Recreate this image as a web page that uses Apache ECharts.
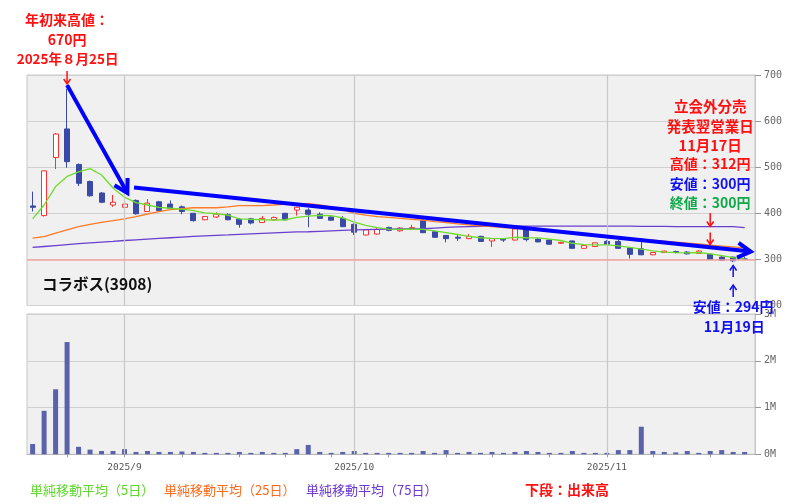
<!DOCTYPE html>
<html><head><meta charset="utf-8">
<script src="https://cdn.jsdelivr.net/npm/echarts@6/dist/echarts.min.js"></script>
<style>html,body{margin:0;padding:0;background:#fff;}#c{width:799px;height:504px;}</style>
</head><body><div id="c"></div>
<script>
// ---- data ----
const dates = ['2025-08-20','2025-08-21','2025-08-22','2025-08-25','2025-08-26','2025-08-27','2025-08-28','2025-08-29',
'2025-09-01','2025-09-02','2025-09-03','2025-09-04','2025-09-05','2025-09-08','2025-09-09','2025-09-10','2025-09-11','2025-09-12',
'2025-09-16','2025-09-17','2025-09-18','2025-09-19','2025-09-22','2025-09-24','2025-09-25','2025-09-26','2025-09-29','2025-09-30',
'2025-10-01','2025-10-02','2025-10-03','2025-10-06','2025-10-07','2025-10-08','2025-10-09','2025-10-10','2025-10-14','2025-10-15',
'2025-10-16','2025-10-17','2025-10-20','2025-10-21','2025-10-22','2025-10-23','2025-10-24','2025-10-27','2025-10-28','2025-10-29',
'2025-10-30','2025-10-31','2025-11-04','2025-11-05','2025-11-06','2025-11-07','2025-11-10','2025-11-11','2025-11-12','2025-11-13',
'2025-11-14','2025-11-17','2025-11-18','2025-11-19','2025-11-20'];
const opens  = [416,395,521,583,506,469,444,418,413,428,404,425,420,414,400,386,392,397,387,388,380,386,400,407,407,398,392,389,
376,353,355,369,362,367,384,360,352,348,345,350,340,343,342,366,344,342,335,340,324,328,339,339,325,323,310,315,317,316,313,311,305,305,301];
const closes = [413,492,572,512,465,438,424,424,420,399,422,406,411,404,384,393,398,386,376,379,389,391,386,413,398,389,385,371,
359,364,365,363,368,369,358,348,345,346,350,339,345,342,366,343,338,333,337,324,330,336,333,324,311,310,315,318,315,312,318,300,298,297,300];
const lows   = [404,393,496,499,459,436,422,414,389,397,403,404,409,398,382,385,390,385,369,376,379,384,385,395,370,388,384,370,
353,352,354,361,360,364,357,347,337,340,344,338,327,338,341,339,337,332,334,323,323,327,332,323,302,309,309,314,313,311,312,300,297,294,299];
const highs  = [447,493,574,670,508,471,446,440,423,430,431,427,428,417,401,394,402,400,389,390,394,393,401,414,411,402,393,394,
378,366,369,371,370,375,386,361,353,353,355,351,346,346,371,370,346,344,338,341,331,337,342,342,327,346,316,319,319,318,320,312,308,306,306];
const volumesM = [0.22,0.93,1.39,2.40,0.16,0.10,0.07,0.07,0.11,0.05,0.07,0.05,0.05,0.06,0.05,0.03,0.03,0.03,0.05,0.03,0.05,0.03,0.03,0.11,0.20,0.05,0.03,0.05,
0.07,0.03,0.03,0.03,0.03,0.03,0.07,0.03,0.09,0.03,0.05,0.03,0.05,0.03,0.05,0.07,0.05,0.03,0.03,0.07,0.03,0.03,0.03,0.09,0.09,0.59,0.07,0.05,0.04,0.07,0.03,0.07,0.09,0.05,0.05];
const ma5  = [388,418,458,480,490,497,483,455,435,423,418,413,411,409,406,401,399,396,388,387,386,385,386,391,394,395.5,395,390,
381,374,369,365.5,365,365.5,365,362,358,354,350,347,345.5,345,348,347,346.5,344,341,335,332,331.5,331.5,329.5,326,322.5,318.5,316,314.5,314,315,312,308,304,301];
const ma25 = [346,349.5,357,364,371,376,380.5,384,388,393,398.5,403.5,408,410,412,412,412,414,416.5,416.5,416.5,418,420,420.5,421,418,414,408,
400,396,393,391,389,387,385,382,380,377,375,373,371,369,368,367,365,363,361,358,355,352.5,350,348,345.5,343.5,341.5,339.5,337.5,335.5,333.5,331,329,327,325];
const ma75 = [326,328,330,332,334,336,337.5,339,341,342.5,344,345.5,347,348.5,350,351,352,353,354.5,355.5,356.5,357.5,358.5,359.5,360,361,362,363,
364,364.5,365,365.5,366,366,366.5,368,369.5,370.5,371,371.5,372,372,372,372,372,372,372,372,372,372,372,372,372,371.5,371.5,371.5,371,371,371,371,371,371,369];
const monthLabels = ['2025/9','2025/10','2025/11'];
const priceTicks = [200,300,400,500,600,700];
const volumeTicksM = [0,1,2,3];
const refPrice = 300;

// ---- derived indices ----
const monthIdx = [], weekStarts = [];
for (let i = 1; i < dates.length; i++) {
  const a = new Date(dates[i-1] + 'T00:00:00Z'), b = new Date(dates[i] + 'T00:00:00Z');
  if (a.getUTCMonth() !== b.getUTCMonth()) monthIdx.push(i);
  if (b.getUTCDay() < a.getUTCDay() || (b - a) > 6 * 86400000) weekStarts.push(i);
}
const idxOfDate = d => dates.indexOf(d);
const pairs = arr => arr.map((v, i) => [i, v]);
const candleData = dates.map((d, i) => [i, opens[i], closes[i], lows[i], highs[i]]);

const chart = echarts.init(document.getElementById('c'));
const X_MIN = -0.49, X_MAX = 62.9;
const monoFont = 'DejaVu Sans Mono';
const jp = '"Noto Sans CJK JP"';

chart.setOption({
  animation: false,
  backgroundColor: '#ffffff',
  grid: [
    {left: 27, right: 44, top: 75, height: 230.5, show: true, backgroundColor: '#f0f0f0', borderColor: '#c6c6c6', borderWidth: 1},
    {left: 27, right: 44, top: 314, height: 140.3, show: true, backgroundColor: '#f0f0f0', borderColor: '#c6c6c6', borderWidth: 1}
  ],
  xAxis: [
    {type: 'value', gridIndex: 0, min: X_MIN, max: X_MAX, show: false, axisLine: {onZero: false}},
    {type: 'value', gridIndex: 1, min: X_MIN, max: X_MAX,
      splitLine: {show: false},
      axisLine: {show: true, onZero: false, lineStyle: {color: '#b8b8b8'}},
      axisTick: {show: true, customValues: weekStarts, length: 3, lineStyle: {color: '#9a9a9a'}},
      axisLabel: {customValues: monthIdx, formatter: v => monthLabels[monthIdx.indexOf(v)] || '',
        color: '#555', fontFamily: monoFont, fontSize: 9.5, margin: 8}}
  ],
  yAxis: [
    {type: 'value', gridIndex: 0, position: 'right', min: priceTicks[0], max: priceTicks[priceTicks.length-1], interval: 100,
      splitLine: {show: true, lineStyle: {color: '#d0d0d0'}},
      axisLine: {show: true, onZero: false, lineStyle: {color: '#c6c6c6'}},
      axisTick: {show: true, length: 6, lineStyle: {color: '#999'}},
      axisLabel: {color: '#666', fontFamily: monoFont, fontSize: 10, margin: 9}},
    {type: 'value', gridIndex: 1, position: 'right', min: 0, max: volumeTicksM[volumeTicksM.length-1] * 1e6, interval: 1e6,
      splitLine: {show: true, lineStyle: {color: '#d0d0d0'}},
      axisLine: {show: true, onZero: false, lineStyle: {color: '#c6c6c6'}},
      axisTick: {show: true, length: 6, lineStyle: {color: '#999'}},
      axisLabel: {color: '#666', fontFamily: monoFont, fontSize: 10, margin: 9, formatter: v => (v / 1e6) + 'M'}}
  ],
  series: [
    {type: 'line', xAxisIndex: 0, yAxisIndex: 0, data: [], z: 1, silent: true,
      markLine: {silent: true, symbol: 'none', label: {show: false},
        data: monthIdx.map(i => ({xAxis: i, lineStyle: {color: '#c8c8c8', width: 1.2, type: 'solid'}}))
          .concat([{yAxis: refPrice, lineStyle: {color: '#f4a4a4', width: 1.5, type: 'solid'}}])}},
    {type: 'line', xAxisIndex: 1, yAxisIndex: 1, data: [], z: 1, silent: true,
      markLine: {silent: true, symbol: 'none', label: {show: false},
        data: monthIdx.map(i => ({xAxis: i, lineStyle: {color: '#c8c8c8', width: 1.2, type: 'solid'}}))}},
    {name: 'price', type: 'candlestick', xAxisIndex: 0, yAxisIndex: 0, data: candleData,
      encode: {x: 0, y: [1, 2, 3, 4]}, barWidth: 5.5, z: 3,
      itemStyle: {color: '#ffffff', color0: '#3949a5', borderColor: '#ff3030', borderColor0: '#3949a5', borderWidth: 1}},
    {name: 'MA75', type: 'line', xAxisIndex: 0, yAxisIndex: 0, data: pairs(ma75), showSymbol: false, z: 4,
      lineStyle: {color: '#6a3fcf', width: 1.3}},
    {name: 'MA25', type: 'line', xAxisIndex: 0, yAxisIndex: 0, data: pairs(ma25), showSymbol: false, z: 4,
      lineStyle: {color: '#ff7a26', width: 1.3}},
    {name: 'MA5', type: 'line', xAxisIndex: 0, yAxisIndex: 0, data: pairs(ma5), showSymbol: false, z: 4,
      lineStyle: {color: '#6edc2c', width: 1.3}},
    {name: 'volume', type: 'bar', xAxisIndex: 1, yAxisIndex: 1, data: volumesM.map((v, i) => [i, v * 1e6]),
      barWidth: 5, itemStyle: {color: '#5a62aa'}}
  ]
});

// ---- annotations ----
const P = (x, y) => chart.convertToPixel({xAxisIndex: 0, yAxisIndex: 0}, [x, y]);
function arrow(p1, p2, color, w, head, spread) {
  const ang = Math.atan2(p2[1] - p1[1], p2[0] - p1[0]);
  const a1 = ang + Math.PI - spread, a2 = ang + Math.PI + spread;
  return [
    {type: 'line', z: 100, shape: {x1: p1[0], y1: p1[1], x2: p2[0], y2: p2[1]}, style: {stroke: color, lineWidth: w, lineCap: 'butt'}},
    {type: 'polyline', z: 100, shape: {points: [[p2[0] + head * Math.cos(a1), p2[1] + head * Math.sin(a1)], [p2[0], p2[1]],
      [p2[0] + head * Math.cos(a2), p2[1] + head * Math.sin(a2)]]}, style: {stroke: color, lineWidth: w, fill: null, lineJoin: 'miter'}}
  ];
}
function txt(x, y, text, color, size, weight, align) {
  return {type: 'text', z: 101, x: x, y: y, style: {text: text, fill: color,
    font: (weight || 'bold') + ' ' + size + 'px ' + jp, align: align || 'center', verticalAlign: 'middle'}};
}
const RED = '#ff1010', BLUE = '#1010f0', GREEN = '#10a848';
const iHigh = idxOfDate('2025-08-25'), iNov17 = idxOfDate('2025-11-17'), iNov19 = idxOfDate('2025-11-19');
const xHigh = P(iHigh, 0)[0], x17 = P(iNov17, 0)[0], x19 = P(iNov19, 0)[0];
const g = [];
// big blue arrows
g.push(...arrow(P(3, 678), P(8.25, 444), '#0000ff', 4, 15, Math.PI / 6));
g.push(...arrow(P(8.83, 456), P(62.53, 317), '#0000ff', 4, 15, Math.PI / 6));
// small glyph arrows
g.push(...arrow([xHigh, 71], [xHigh, 84], RED, 1.5, 6, 0.6));
g.push(...arrow([x17, 213], [x17, 226.5], RED, 1.5, 6, 0.6));
g.push(...arrow([x17, 232.5], [x17, 244.5], RED, 1.5, 6, 0.6));
g.push(...arrow([x19, 277], [x19, 265.5], BLUE, 1.5, 6, 0.6));
g.push(...arrow([x19, 297], [x19, 285], BLUE, 1.5, 6, 0.6));
// texts
g.push(txt(xHigh, 20, '年初来高値：', RED, 14));
g.push(txt(xHigh, 39.5, '670円', RED, 14));
g.push(txt(xHigh + 0.5, 58.5, '2025年８月25日', RED, 13.5));
g.push(txt(x17, 106.5, '立会外分売', RED, 14.5));
g.push(txt(x17, 126, '発表翌営業日', RED, 14.5));
g.push(txt(x17, 145, '11月17日', RED, 14.5));
g.push(txt(x17, 164, '高値：312円', RED, 14));
g.push(txt(x17, 183.5, '安値：300円', BLUE, 14));
g.push(txt(x17, 202.5, '終値：300円', GREEN, 14));
g.push(txt(x19, 307, '安値：294円', BLUE, 14));
g.push(txt(x19 + 1, 326.5, '11月19日', BLUE, 14));
g.push(txt(42, 284, 'コラボス(3908)', '#111', 15.5, 'bold', 'left'));
g.push(txt(30, 490, '単純移動平均（5日）', '#5ed82a', 13, 'normal', 'left'));
g.push(txt(164, 490, '単純移動平均（25日）', '#ff6a1a', 13, 'normal', 'left'));
g.push(txt(306, 490, '単純移動平均（75日）', '#6a3ad0', 13, 'normal', 'left'));
g.push(txt(567, 490, '下段：出来高', RED, 14));
chart.setOption({graphic: {elements: g}});
</script>
</body></html>
